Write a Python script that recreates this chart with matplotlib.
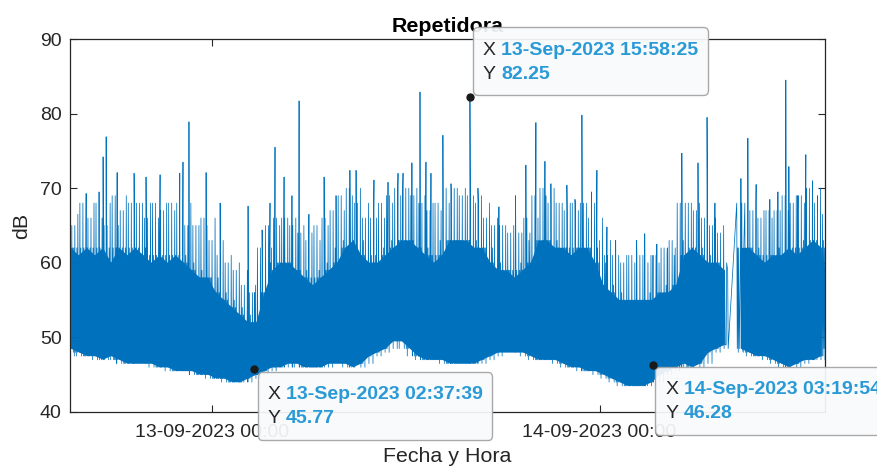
import numpy as np
import matplotlib
matplotlib.use('Agg')
import matplotlib.pyplot as plt
import matplotlib.dates as mdates
from matplotlib.offsetbox import TextArea, HPacker, VPacker, DrawingArea, AnnotationBbox

plt.rcParams['font.family'] = ['Liberation Sans', 'DejaVu Sans']
plt.rcParams['path.simplify'] = False

# sound level, summarised in half-hour bins starting 12-09-2023 15:00
# (hours counted from 13-09-2023 00:00); nan = no samples recorded
day0 = np.datetime64('2023-09-13T00:00:00')
bin_start = -9.0
bin_width = 0.5

floor_db = [48.5, 48, 47.5, 47.5, 47, 47.5, 47, 46.5, 46.5, 46.5,
            46.5, 46, 46, 45.5, 45.5, 45.5, 45, 45, 44.5, 44.5,
            44, 44, 44.5, 45, 45.5, 46, 46, 46.5, 46.5, 46,
            46, 46, 46.5, 46.5, 46.5, 46, 46.5, 47.5, 48, 48.5,
            49.5, 49.5, 48.5, 47.5, 47, 47, 47, 46.5, 46.5, 46.5,
            46.5, 47, 47.5, 48, 48, 48, 48, 47.5, 47, 47,
            47, 46.5, 46, 46, 45.5, 45.5, 45, 44.5, 44, 43.5,
            43.5, 43.5, 44, 45, 45.5, 46, 46.5, 46, 46.5, 48,
            48.5, 49, np.nan, 48.5, 48, 47.5, 47.5, 47, 46.5, 46,
            46.5, 47, 47, 47.5]
mid_db = [62, 61, 62, 61, 62, 60, 62, 61, 62, 61,
          60, 61, 60, 61, 60, 59, 58, 58, 56, 55,
          54, 53, 52, 52, 56, 59, 60, 60, 59, 58,
          57, 58, 59, 60, 62, 63, 61, 60, 60, 61,
          62, 63, 63, 62, 61, 60, 61, 63, 63, 63,
          62, 62, 60, 59, 59, 58, 59, 60, 63, 63,
          62, 62, 61, 62, 62, 60, 57, 56, 55, 55,
          55, 55, 55, 56, 56, 57, 61, 62, 61, 60,
          60, 59, np.nan, 62, 62, 61, 60, 61, 61, 62,
          61, 62, 63, 62]
top_db = [66.5, 65, 68, 66, 68, 65, 69, 67, 68, 68,
          66, 68, 67, 68, 68, 65, 65, 66, 63, 61,
          60, 59, 57, 56, 62, 65, 66, 66, 65, 64,
          63, 65, 66, 67, 69, 70, 68, 66, 66, 68,
          69, 70, 70, 69, 68, 67, 68, 70, 70, 69,
          69, 68, 66, 65, 65, 64, 64, 66, 69, 70,
          68, 68, 67, 68, 68, 66, 63, 61, 61, 60,
          61, 61, 60, 61, 62, 63, 68, 68, 67, 66,
          65, 64, np.nan, 68, 68, 67, 66, 67, 67, 69,
          68, 69, 70, 68]

# isolated peaks (hour, dB)
spike_hours = [-7.8, -7.0, -6.75, -6.56, -5.88, -4.83, -4.09, -3.22, -2.0, -1.8,
               -1.43, -0.37, 0.5, 2.23, 3.1, 3.59, 3.9, 4.46, 4.95, 5.39,
               6.0, 6.94, 7.68, 8.54, 8.92, 10.03, 10.9, 11.52, 11.83, 12.38,
               12.88, 13.25, 13.56, 14.3, 14.8, 16.47, 17.77, 18.8, 19.44, 20.06,
               20.62, 20.99, 21.98, 22.48, 22.91, 23.5, 23.84, 24.46, 25.0, 26.3,
               26.8, 27.55, 28.2, 29.1, 30.1, 30.66, 31.15, 32.76, 33.19, 33.7,
               34.55, 35.05, 35.54, 35.73, 36.28, 36.78, 37.2, 37.5]
spike_db = [69.3, 69.5, 74.2, 76.9, 72.1, 72.0, 71.5, 71.8, 72.0, 73.5,
            78.9, 72.1, 68.0, 67.6, 64.4, 68.0, 75.5, 71.5, 69.0, 81.7,
            66.5, 71.5, 69.0, 72.4, 72.4, 71.1, 70.8, 72.0, 72.0, 73.4,
            82.9, 73.5, 72.0, 77.1, 70.6, 70.0, 67.5, 69.0, 73.1, 78.8,
            73.6, 70.6, 70.4, 68.5, 79.8, 69.5, 72.4, 64.8, 63.0, 63.0,
            63.9, 62.5, 62.0, 74.7, 73.4, 79.5, 68.0, 71.3, 76.7, 70.5,
            68.5, 69.5, 84.5, 72.9, 69.0, 74.5, 71.0, 69.0]

# data tips
tip_times = ['2023-09-13T15:58:25', '2023-09-13T02:37:39', '2023-09-14T03:19:54']
tip_db = [82.25, 45.77, 46.28]
tip_labels = ['13-Sep-2023 15:58:25', '13-Sep-2023 02:37:39', '14-Sep-2023 03:19:54']

x_limits = ['2023-09-12T15:12:00', '2023-09-14T13:58:00']


def to_time(h):
    return day0 + (np.asarray(h) * 3600).astype('timedelta64[s]')


lo = np.array(floor_db)
md = np.array(mid_db)
hi = np.array(top_db)
prv = lambda a: np.roll(a, 1)
nxt = lambda a: np.roll(a, -1)

# every bin becomes eight down/up strokes, reaching the levels of the bin
# and of its neighbours so the edges of the trace stay ragged
highs = [hi, md, nxt(md), prv(hi), md, nxt(hi), prv(md), md]
lows = [lo, nxt(lo), lo, prv(lo), lo, lo, nxt(lo), prv(lo)]
levels = np.column_stack([v for pair in zip(highs, lows) for v in pair])
levels[np.isnan(lo)] = np.nan          # empty bins stay empty
nbin, nsub = levels.shape
hrs = (bin_start + bin_width * np.arange(nbin)[:, None]
       + bin_width / nsub * np.arange(nsub)[None, :])
hrs = hrs.ravel()
vals = levels.ravel()

tip_t = np.array(tip_times, dtype='datetime64[s]')
tip_h = (tip_t - day0) / np.timedelta64(1, 'h')

hrs = np.concatenate([hrs, spike_hours, tip_h])
vals = np.concatenate([vals, spike_db, tip_db])
keep = ~np.isnan(vals)
hrs, vals = hrs[keep], vals[keep]
order = np.argsort(hrs)
hrs, vals = hrs[order], vals[order]

bin_mid = bin_start + bin_width * (np.arange(nbin) + 0.5)

dark = '#262626'
blue = '#2a9ad6'
line_col = '#0072BD'

fig = plt.figure(figsize=(8.77, 4.76), dpi=100)
ax = fig.add_axes([0.0798, 0.1345, 0.8609, 0.7835])
# solid core of the trace plus the individual strokes
ax.fill_between(to_time(bin_mid), lo, md, color=line_col, lw=0)
ax.plot(to_time(hrs), vals, color=line_col, lw=0.55)

ax.set_xlim(np.datetime64(x_limits[0]), np.datetime64(x_limits[1]))
ax.set_ylim(40, 90)
ax.set_yticks(range(40, 91, 10))
ax.xaxis.set_major_locator(mdates.DayLocator())
ax.xaxis.set_major_formatter(mdates.DateFormatter('%d-%m-%Y %H:%M'))
ax.tick_params(direction='in', top=True, right=True, length=5, width=0.8,
               color=dark, labelcolor=dark, labelsize=14)
ax.tick_params(axis='x', pad=9)
ax.tick_params(axis='y', pad=6)
for s in ax.spines.values():
    s.set_color(dark)
    s.set_linewidth(0.9)

ax.set_title('Repetidora', fontsize=15.4, fontweight='bold', pad=5)
ax.set_xlabel('Fecha y Hora', fontsize=15.4, color=dark, labelpad=4)
ax.set_ylabel('dB', fontsize=15.4, color=dark, labelpad=6)

# data tips
offsets = [((2.0, 1.2), (0, 0)), ((2.2, -2.0), (0, 1)), ((1.5, -1.0), (0, 1))]
fs = 14
for t, v, lab, (off, align) in zip(tip_t, tip_db, tip_labels, offsets):
    row_x = HPacker(children=[TextArea('X', textprops=dict(color=dark, size=fs)),
                              TextArea(lab, textprops=dict(color=blue, size=fs, weight='bold'))],
                    sep=4, align='baseline')
    row_y = HPacker(children=[TextArea('Y', textprops=dict(color=dark, size=fs)),
                              TextArea('%.2f' % v, textprops=dict(color=blue, size=fs, weight='bold'))],
                    sep=4, align='baseline')
    rows = VPacker(children=[row_x, row_y], sep=4.9, pad=0, align='left')
    box = VPacker(children=[DrawingArea(1, 3.6), rows, DrawingArea(1, 2.0)],
                  sep=0, pad=7, align='left')
    ab = AnnotationBbox(box, (t, v), xybox=off, boxcoords='offset points',
                        box_alignment=align, frameon=True, annotation_clip=False,
                        bboxprops=dict(boxstyle='round,pad=0,rounding_size=0.35',
                                       fc='#f9fafc', ec='#a3a3a3', lw=1.0, alpha=0.93),
                        zorder=10)
    ax.add_artist(ab)
    ax.plot(t, v, 'o', ms=5, mfc='#1a1a1a', mec='#1a1a1a', zorder=11, clip_on=False)

fig.savefig('out.png', dpi=100)
